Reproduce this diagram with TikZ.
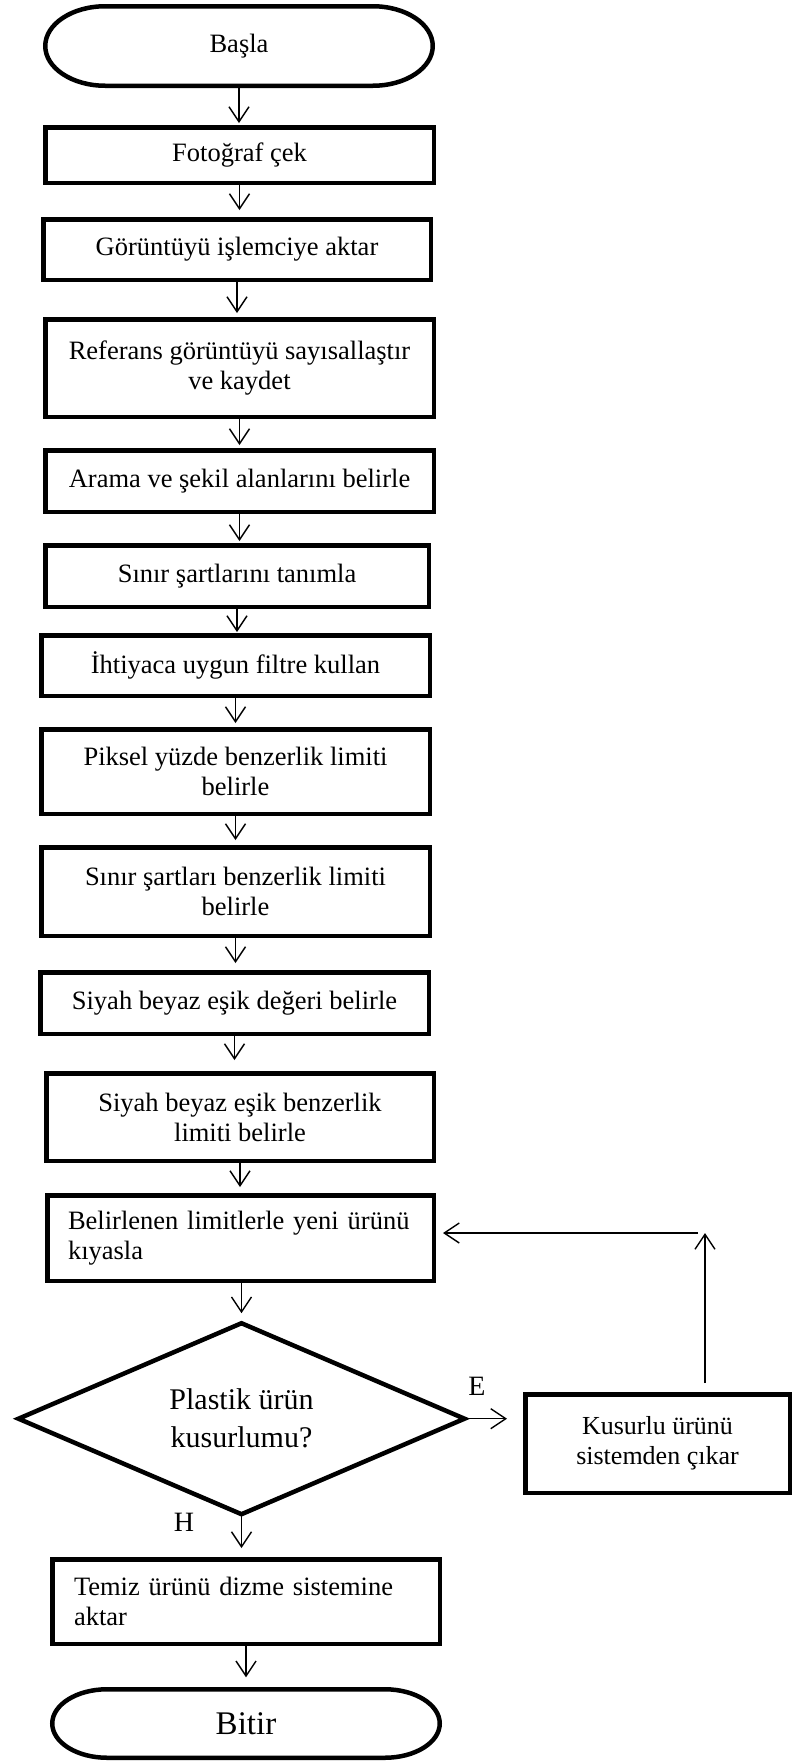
\documentclass[tikz,border=0pt]{standalone}
\usepackage{fontspec}
\setmainfont{Liberation Serif}
\usetikzlibrary{shapes.geometric,arrows.meta,calc}
\begin{document}
\begin{tikzpicture}[x=1pt,y=-1pt,
  txt/.style={font=\fontsize{26.5}{30}\selectfont},
  box/.style={txt,draw,line width=4.5pt,align=center,inner sep=2pt},
  termtext/.style={minimum width=387.5pt,inner sep=0pt,outer sep=0pt},
  termline/.style={line width=4.5pt},
  arr/.style={line width=1.4pt,-{Straight Barb[length=15pt,width=20pt,line width=1.4pt]}},
  lbl/.style={txt,inner sep=0pt}]
\useasboundingbox (0,0) rectangle (795,1762);

% Start terminal
\node[termtext,txt,minimum height=79.5pt] (start) at (239,46) {Başla};
\draw[termline] ([xshift=60pt]start.north west) -- ([xshift=-60pt]start.north east)
  arc[start angle=90,end angle=-90,x radius=60pt,y radius=39.75pt]
  -- ([xshift=60pt]start.south west)
  arc[start angle=270,end angle=90,x radius=60pt,y radius=39.75pt] -- cycle;

\node[box,minimum width=388.5pt,minimum height=55.5pt] (foto) at (239.5,155) {Fotoğraf çek};
\node[box,minimum width=387.5pt,minimum height=60.5pt] (gor) at (237,249.5) {Görüntüyü işlemciye aktar};
\node[box,minimum width=388.5pt,minimum height=97.5pt] (ref) at (239.5,368) {Referans görüntüyü sayısallaştır\\ve kaydet};
\node[box,minimum width=388.5pt,minimum height=61.5pt] (arama) at (239.5,481) {Arama ve şekil alanlarını belirle};
\node[box,minimum width=383.5pt,minimum height=61.5pt] (sinir) at (237,576) {Sınır şartlarını tanımla};
\node[box,minimum width=388.5pt,minimum height=60.5pt] (ihti) at (235.5,665.5) {İhtiyaca uygun filtre kullan};
\node[box,minimum width=388.5pt,minimum height=84.5pt] (piksel) at (235.5,771.5) {Piksel yüzde benzerlik limiti\\belirle};
\node[box,minimum width=388.5pt,minimum height=88.5pt] (sinir2) at (235.5,891.5) {Sınır şartları benzerlik limiti\\belirle};
\node[box,minimum width=388.5pt,minimum height=61.5pt] (siyah1) at (234.5,1003) {Siyah beyaz eşik değeri belirle};
\node[box,minimum width=387.5pt,minimum height=87.5pt] (siyah2) at (240,1117) {Siyah beyaz eşik benzerlik\\limiti belirle};
\node[box,align=left,text width=345pt,inner xsep=20.75pt,minimum height=85.5pt] (bel) at (240.5,1238) {Belirlenen limitlerle yeni ürünü\\kıyasla};

\node[diamond,draw,line width=4.5pt,aspect=2.3,minimum width=446pt,minimum height=191pt,inner sep=0pt,outer sep=0pt,align=center,font=\fontsize{30}{38}\selectfont] (dia) at (241.5,1418.7) {Plastik ürün\\kusurlumu?};

\node[box,minimum width=264.5pt,minimum height=98.5pt,font=\fontsize{26}{30}\selectfont] (kus) at (657.5,1443.5) {Kusurlu ürünü\\sistemden çıkar};

\node[box,align=left,text width=344pt,inner xsep=21.75pt,minimum height=84.5pt] (temiz) at (246,1601.5) {Temiz ürünü dizme sistemine\\aktar};

% End terminal
\node[termtext,minimum height=68.5pt,font=\fontsize{33}{38}\selectfont] (end) at (246,1723.5) {Bitir};
\draw[termline] ([xshift=55pt]end.north west) -- ([xshift=-55pt]end.north east)
  arc[start angle=90,end angle=-90,x radius=55pt,y radius=34.25pt]
  -- ([xshift=55pt]end.south west)
  arc[start angle=270,end angle=90,x radius=55pt,y radius=34.25pt] -- cycle;

% labels
\node[lbl,font=\fontsize{28}{30}\selectfont] (elbl) at (477,1386) {E};
\node[lbl,font=\fontsize{28}{30}\selectfont] (hlbl) at (184,1522) {H};

% connectors
\draw[arr,shorten <=2.25pt,shorten >=2pt] (start.south) -- (start.south |- foto.north);
\draw[arr,shorten >=7pt] (foto.south) -- (foto.south |- gor.north);
\draw[arr,shorten >=4pt] (gor.south) -- (gor.south |- ref.north);
\draw[arr,shorten >=3pt] (ref.south) -- (ref.south |- arama.north);
\draw[arr,shorten >=2pt] (arama.south) -- (arama.south |- sinir.north);
\draw[arr,shorten >=1pt] (sinir.south) -- (sinir.south |- ihti.north);
\draw[arr,shorten >=4pt] (ihti.south) -- (ihti.south |- piksel.north);
\draw[arr,shorten >=5pt] (piksel.south) -- (piksel.south |- sinir2.north);
\draw[arr,shorten >=7pt] (sinir2.south) -- (sinir2.south |- siyah1.north);
\draw[arr,shorten >=11pt] (siyah1.south) -- (siyah1.south |- siyah2.north);
\draw[arr,shorten >=6pt] (siyah2.south) -- (siyah2.south |- bel.north);
\draw[arr,shorten >=10pt] (bel.south -| dia.north) -- (dia.north);
\draw[arr,shorten >=9pt] (dia.south) -- (dia.south |- temiz.north);
\draw[arr,shorten >=12pt] (temiz.south) -- (temiz.south |- end.north);
\draw[arr,shorten >=16pt] (dia.east) -- (dia.east -| kus.west);
\coordinate (corner) at (705,1233);
\draw[arr] ($(kus.north -| corner)+(0,-9)$) -- (corner);
\draw[arr] ($(corner)+(-7,0)$) -- ($(bel.east |- corner)+(7,0)$);
\end{tikzpicture}
\end{document}
